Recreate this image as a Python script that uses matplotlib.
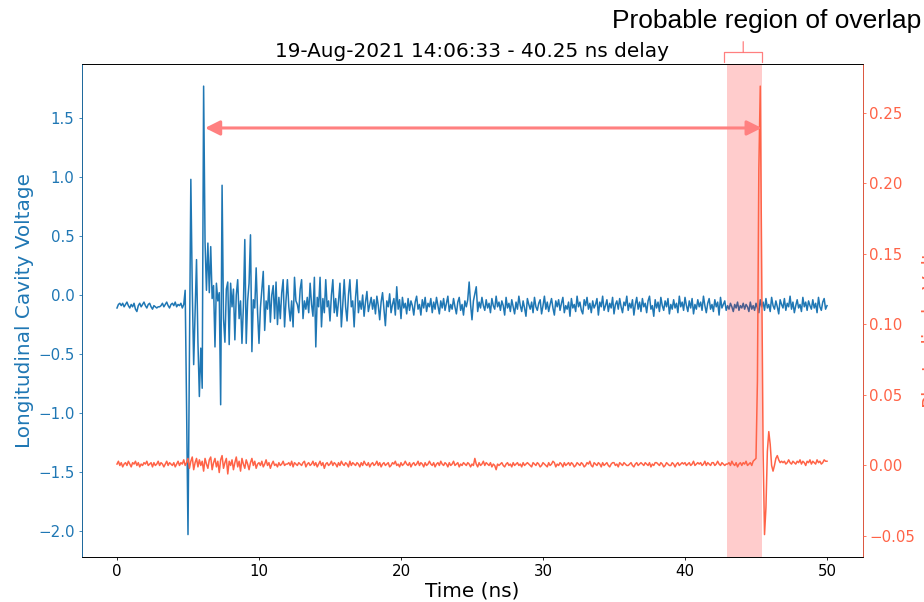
import numpy as np
import matplotlib.pyplot as plt

title = "19-Aug-2021 14:06:33 - 40.25 ns delay"
t_first, t_last = 0.0, 50.0  # ns, scope record window

# longitudinal cavity voltage, hundredths of a volt, one row per ns (0.1 ns samples)
cavity_cv = [
    -11, -8, -7, -9, -7, -10, -8, -6, -9, -11,
    -8, -10, -7, -12, -14, -9, -7, -10, -8, -6,
    -9, -11, -8, -7, -10, -12, -9, -10, -11, -10,
    -10, -9, -7, -10, -8, -6, -9, -11, -8, -7,
    -9, -6, -10, -8, -9, -7, -11, -8, 4, -95,
    -203, -55, 98, 5, -59, -15, 30, -40, -86, -45,
    -79, 177, 45, 4, 44, 2, 41, -3, 8, -44,
    10, -5, 2, -93, 93, -20, -40, 5, 11, -42,
    10, -10, 5, -38, 0, 13, -20, -5, -41, -10,
    47, -41, -5, 10, 51, -48, -4, -11, 23, -15,
    -41, -11, 5, 20, -30, -5, -12, 8, -23, 0,
    8, -20, 11, -25, -2, -20, 2, 13, -27, -5,
    13, -10, -22, -5, -27, 15, -5, -8, -15, 5,
    13, -20, -5, -12, -2, -15, 10, -8, -18, 15,
    -44, -2, -10, 15, -27, -3, -15, 13, -10, -5,
    -22, 0, 13, -15, -3, -18, -5, 10, -27, -8,
    13, -10, -22, 0, 13, -10, -5, -27, -2, 13,
    -15, -5, -12, 0, -18, -6, 3, -14, -8, -2,
    -12, -4, -16, -1, -9, -21, -6, 2, -12, -26,
    -5, -10, 1, -15, -8, -3, -17, 7, -12, -4,
    -20, -2, -11, -7, -16, -3, -13, -5, -9, -17,
    -6, -1, -12, -8, -17, -4, -11, -2, -14, -7,
    -10, -3, -15, -6, -12, -2, -9, -16, -5, -11,
    -3, -13, -7, -1, -14, -8, -12, -3, -10, -16,
    -6, -2, -13, -8, -17, -5, -10, -4, 11, -8,
    -21, -5, 1, 7, -14, -6, -11, -2, -9, -13,
    -4, -11, -7, -15, -3, -9, -12, -1, -10, -6,
    -13, -5, -9, -17, -2, -11, -7, -14, -4, -10,
    -16, -6, -12, -1, -9, -14, -5, -11, -18, -3,
    -8, -12, -6, -15, -2, -10, -13, -7, -4, -16,
    -9, -1, -12, -6, -14, -8, -3, -11, -17, -5,
    -10, -4, -13, -7, -2, -15, -9, -12, -6, -18,
    -3, -11, -8, -14, -1, -10, -6, -13, -16, -4,
    -9, -2, -12, -7, -15, -5, -11, -8, -3, -17,
    -6, -10, -1, -13, -9, -4, -14, -7, -11, -2,
    -16, -8, -5, -12, -3, -10, -15, -6, -9, -1,
    -13, -7, -11, -4, -17, -8, -2, -12, -6, -14,
    -3, -10, -7, -15, -5, -1, -12, -9, -18, -4,
    -11, -6, -14, -2, -9, -13, -5, -10, -3, -16,
    -8, -12, -4, -11, -7, -15, -1, -10, -6, -13,
    -2, -9, -14, -5, -11, -3, -16, -8, -12, -4,
    -10, -6, -13, -1, -9, -15, -7, -3, -12, -8,
    -14, -4, -10, -6, -17, -2, -11, -8, -5, -13,
    -9, -12, -7, -10, -14, -8, -11, -6, -13, -9,
    -11, -7, -12, -8, -10, -14, -6, -12, -9, -13,
    -7, -11, -15, -4, -10, -6, -13, -3, -11, -8,
    -14, -2, -9, -12, -5, -10, -16, -4, -8, -11,
    -3, -13, -7, -10, -1, -12, -6, -15, -9, -4,
    -11, -8, -14, -2, -10, -6, -13, -5, -9, -12,
    -4, -11, -7, -15, -2, -10, -13, -6, -3, -12,
    -9,
]

# photodiode voltage, thousandths of a volt, same sampling
photodiode_mv = [
    1, 3, 0, 2, -1, 1, 2, 0, 3, 1,
    -1, 2, 1, 3, 0, 2, -1, 1, 0, 2,
    1, 3, 0, 1, 2, -1, 2, 0, 1, 3,
    0, 2, 1, -1, 1, 3, 0, 2, 1, 0,
    2, -1, 1, 3, 0, 2, 1, 4, 0, 2,
    5, -2, 3, 6, -3, 2, 5, -1, 4, 0,
    3, -4, 5, 1, -2, 4, 6, -3, 2, 5,
    -1, 3, -5, 4, 7, -2, 2, 5, -6, 3,
    0, 4, -3, 2, 6, -1, 3, -4, 5, 1,
    -2, 4, 1, -3, 2, 5, 0, 3, -2, 1,
    2, 0, 3, -1, 1, 4, 0, 2, -2, 1,
    3, 0, 1, -1, 2, 0, 1, 3, 0, 1,
    1, 2, 0, 3, -1, 2, 1, 0, 2, 1,
    0, 2, 3, -1, 1, 2, 0, 1, 3, 0,
    2, -1, 1, 3, 0, 2, -2, 1, 2, 0,
    1, 3, 0, 2, 1, -1, 2, 0, 3, 1,
    0, 2, 1, -1, 3, 0, 2, 1, 0, 2,
    1, -1, 2, 0, 3, 1, 0, 2, -1, 1,
    2, 0, 1, 3, 0, 2, -1, 1, 2, 0,
    1, 2, -1, 0, 2, 1, 3, 0, 1, -1,
    2, 0, 1, 3, 1, 0, 2, -1, 1, 2,
    0, 1, 3, 0, 2, 1, -1, 2, 0, 1,
    3, 1, 0, 2, -1, 1, 2, 0, 3, 1,
    0, 2, 1, -1, 2, 0, 1, 3, 0, 1,
    2, -1, 1, 0, 2, 1, 0, 2, 1, -1,
    1, 0, 5, 1, -1, 2, 0, 1, 3, 0,
    2, 1, 0, 2, -1, 1, 0, -3, 1, 0,
    1, 2, 0, -1, 1, 2, 0, 1, -1, 2,
    0, 1, 2, 0, 1, -1, 2, 0, 1, 2,
    1, 0, -1, 2, 1, 0, 2, 1, -1, 0,
    2, 1, 0, -1, 2, 0, 1, 3, 2, -1,
    1, 0, 2, 1, -1, 2, 0, 1, 2, 0,
    2, 1, -1, 0, 2, 1, 0, 2, 1, -1,
    0, 2, 1, 3, 0, -1, 2, 1, 0, 2,
    1, -1, 2, 0, 1, 2, 0, -1, 1, 2,
    2, 0, 1, -1, 2, 1, 0, 2, 1, 0,
    0, 1, 2, 0, -1, 1, 2, 0, 1, 2,
    1, 0, 2, 1, 0, 2, -1, 1, 0, 2,
    2, 1, 0, 2, 1, -1, 0, 2, 1, 0,
    0, 2, 1, -1, 1, 2, 0, 1, 2, 1,
    2, 0, 1, 2, 0, 1, 3, 0, 1, 2,
    1, 2, 0, 1, 3, 0, 2, 1, 0, 2,
    2, 0, 1, 3, 1, 0, 2, 1, 0, 1,
    1, 2, 0, 3, 1, 0, 2, -1, 1, 2,
    0, 2, 1, 3, 0, 1, 2, 0, 3, 4,
    5, 60, 210, 269, 140, 10, -49, -30, 10, 24,
    15, 0, -4, 0, 5, 7, 4, 2, 3, 2,
    3, 1, 2, 4, 2, 1, 3, 2, 1, 3,
    2, 4, 1, 3, 2, 0, 3, 2, 4, 1,
    3, 2, 1, 4, 2, 3, 1, 2, 4, 3,
    3,
]

overlap_ns = (42.95, 45.45)
arrow_ns = (6.2, 45.4)
bracket_ns = 44.1
overlap_text = "Probable region of overlap"

time_ns = np.linspace(t_first, t_last, len(cavity_cv))
cavity_v = np.array(cavity_cv) / 100
photodiode_v = np.array(photodiode_mv) / 1000

fig = plt.figure(figsize=(9.24, 6.02), dpi=100)
ax = fig.add_axes([81.5 / 924, 45 / 602, 781 / 924, 493.3 / 602])
ax2 = ax.twinx()

ax.plot(time_ns, cavity_v, color="tab:blue", lw=1.1)
ax2.axvspan(*overlap_ns, color="red", alpha=0.2, lw=0)
ax2.plot(time_ns, photodiode_v, color="tomato", lw=1.1)

ax.set_title(title, fontsize=14.4, pad=4.5)
ax.set_xlabel("Time (ns)", fontsize=14.4, labelpad=2)
ax.set_ylabel("Longitudinal Cavity Voltage", fontsize=14.4, color="tab:blue", labelpad=3)
ax2.set_ylabel("Photodiode Voltage", fontsize=14.4, color="tomato", labelpad=4.5)

ax.tick_params(axis="x", labelsize=10.8, length=2.5, width=0.6, pad=2.5)
ax.tick_params(axis="y", labelsize=10.8, length=2.5, width=0.6, pad=2.5,
               colors="tab:blue")
ax2.tick_params(axis="y", labelsize=10.8, length=2.5, width=0.6, pad=2.5,
                colors="tomato")
for sp in ax.spines.values():
    sp.set_linewidth(0.6)
for sp in ax2.spines.values():
    sp.set_linewidth(0.6)
ax2.spines["left"].set_color("tab:blue")
ax2.spines["right"].set_color("tomato")

# double arrow linking the two peaks
ax2.annotate("", xy=(arrow_ns[1], 0.8697), xytext=(arrow_ns[0], 0.8697),
             xycoords=("data", "axes fraction"),
             arrowprops=dict(arrowstyle="<|-|>", color="#ff8080",
                             lw=2.2, mutation_scale=22, shrinkA=0, shrinkB=0))

# bracket above the shaded region
ax2.annotate("", xy=(bracket_ns, 1.0243), xytext=(bracket_ns, 1.0446),
             xycoords=("data", "axes fraction"), annotation_clip=False,
             arrowprops=dict(arrowstyle="-[, widthB=1.37, lengthB=0.72",
                             color="red", alpha=0.5, lw=0.9,
                             mutation_scale=10, shrinkA=0, shrinkB=0))

fig.text(612 / 924, 1 - 28 / 602, overlap_text, fontsize=19,
         family="Liberation Sans", va="baseline", ha="left")

fig.savefig("out.png", dpi=100)
